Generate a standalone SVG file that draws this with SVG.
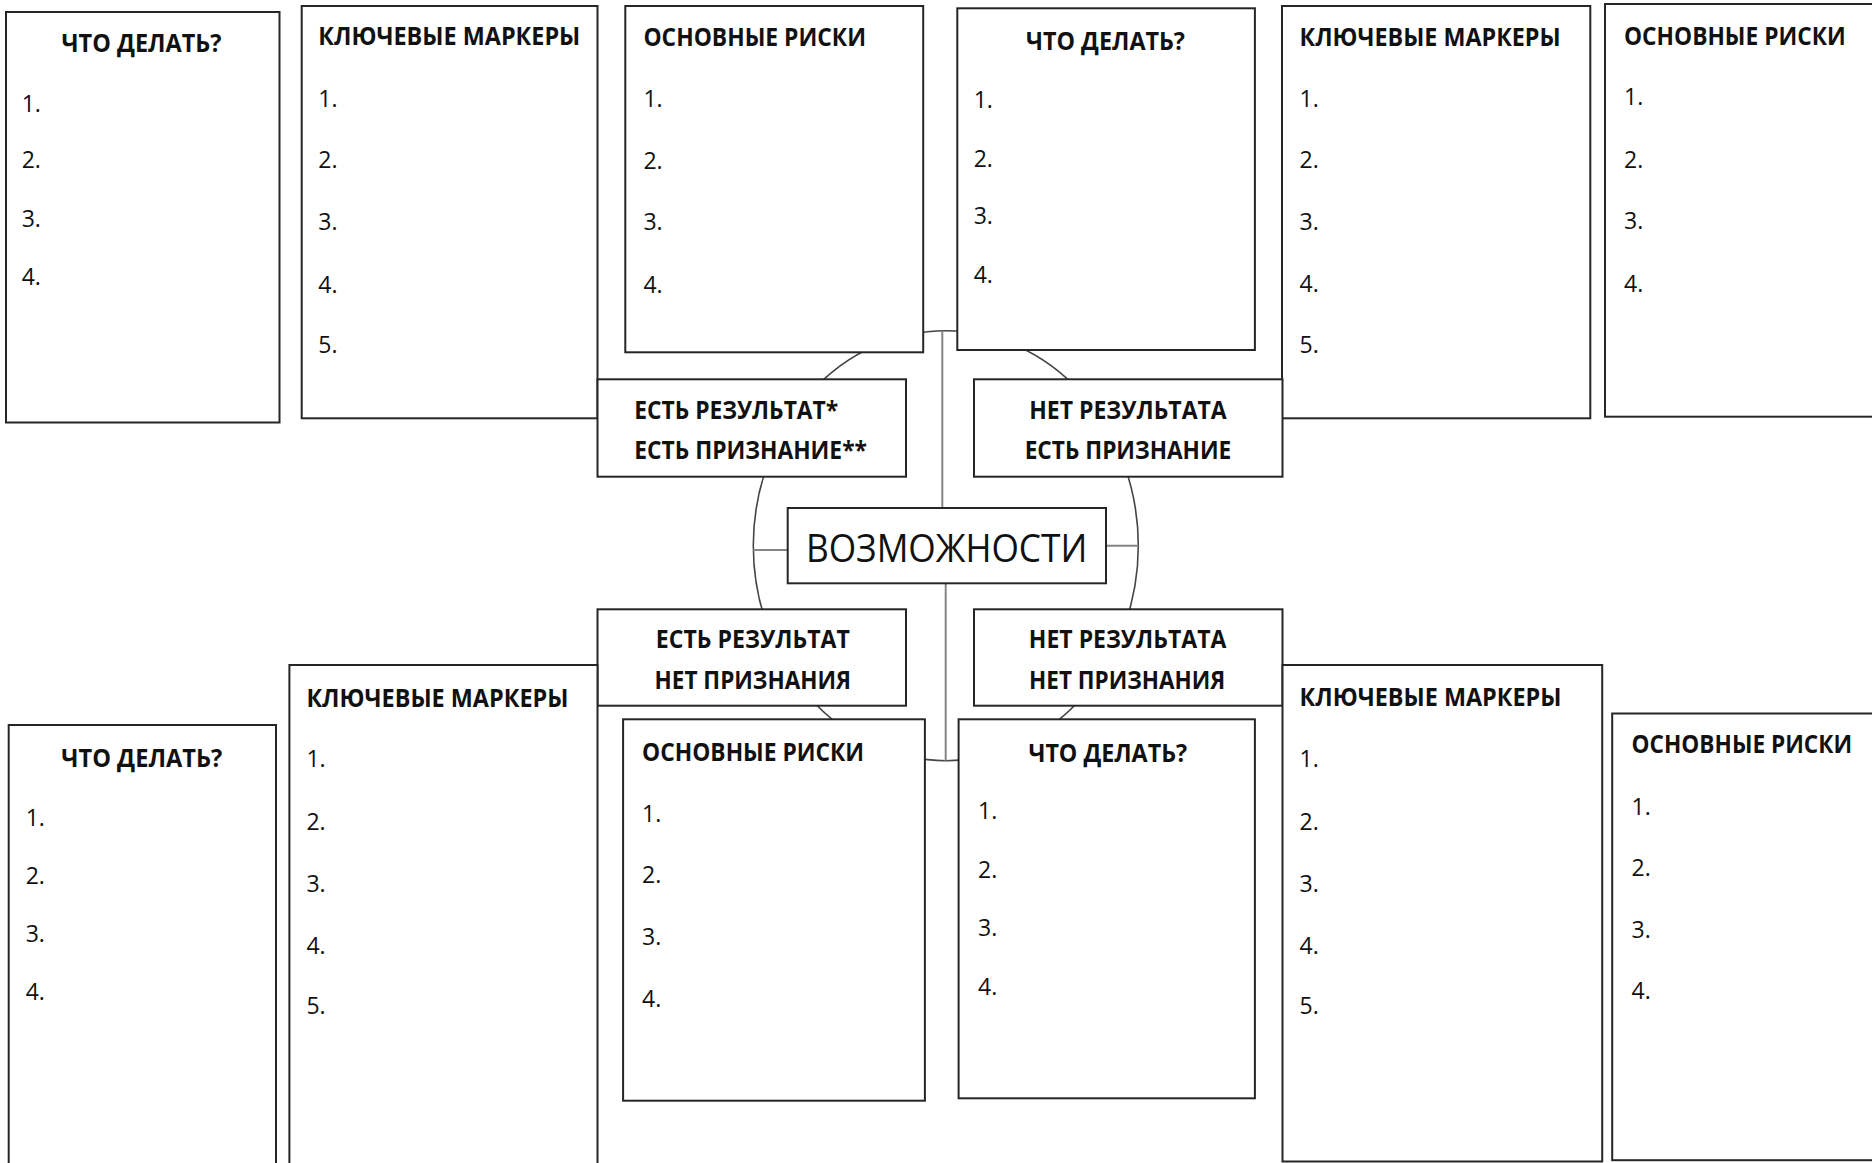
<svg xmlns="http://www.w3.org/2000/svg" width="1872" height="1163" viewBox="0 0 1872 1163">
<style>
.box{fill:#fff;stroke:#262626;stroke-width:2}
.h{font-family:"Open Sans","Noto Sans","Liberation Sans",sans-serif;font-weight:bold;font-size:25px;fill:#111}
.n{font-family:"Open Sans","Noto Sans","Liberation Sans",sans-serif;font-size:23px;fill:#111}
.c{font-family:"Open Sans","Noto Sans","Liberation Sans",sans-serif;font-size:39px;fill:#111}
.arc{fill:none;stroke:#444;stroke-width:1.6}
.spoke{fill:none;stroke:#858585;stroke-width:2}
</style>
<rect width="1872" height="1163" fill="#fff"/>
<g id="connectors">
<ellipse class="arc" cx="945.8" cy="545.7" rx="192.5" ry="215"/>
<line class="spoke" x1="942.3" y1="330.7" x2="942.3" y2="508"/>
<line class="spoke" x1="945.7" y1="583.3" x2="945.7" y2="760.7"/>
<line class="spoke" x1="753.3" y1="550" x2="787.7" y2="550"/>
<line class="spoke" x1="1106" y1="545.7" x2="1138.3" y2="545.7"/>
</g>
<g id="tl_what">
<rect class="box" x="6" y="12" width="273.5" height="410.5"/>
<text class="h" x="141.5" y="51.7" text-anchor="middle" textLength="160" lengthAdjust="spacingAndGlyphs">ЧТО ДЕЛАТЬ?</text>
<text class="n" x="21.7" y="111.7">1.</text><text class="n" x="21.7" y="168.3">2.</text><text class="n" x="21.7" y="226.7">3.</text><text class="n" x="21.7" y="285">4.</text>
</g>
<g id="tl_markers">
<rect class="box" x="301.7" y="6" width="295.8" height="412.3"/>
<text class="h" x="318.3" y="45" textLength="262" lengthAdjust="spacingAndGlyphs">КЛЮЧЕВЫЕ МАРКЕРЫ</text>
<text class="n" x="318.3" y="106.7">1.</text><text class="n" x="318.3" y="168.3">2.</text><text class="n" x="318.3" y="230">3.</text><text class="n" x="318.3" y="292.7">4.</text><text class="n" x="318.3" y="353.3">5.</text>
</g>
<g id="tl_risks">
<rect class="box" x="625.3" y="6" width="297.9" height="346.3"/>
<text class="h" x="643.4" y="45.7" textLength="222.6" lengthAdjust="spacingAndGlyphs">ОСНОВНЫЕ РИСКИ</text>
<text class="n" x="643.4" y="106.7">1.</text><text class="n" x="643.4" y="169.3">2.</text><text class="n" x="643.4" y="230">3.</text><text class="n" x="643.4" y="292.7">4.</text>
</g>
<g id="tm_what">
<rect class="box" x="957.3" y="8.3" width="297.6" height="341.7"/>
<text class="h" x="1105.5" y="50" text-anchor="middle" textLength="159" lengthAdjust="spacingAndGlyphs">ЧТО ДЕЛАТЬ?</text>
<text class="n" x="973.7" y="108.3">1.</text><text class="n" x="973.7" y="166.7">2.</text><text class="n" x="973.7" y="224">3.</text><text class="n" x="973.7" y="282.7">4.</text>
</g>
<g id="tr_markers">
<rect class="box" x="1282" y="6" width="308.3" height="412.3"/>
<text class="h" x="1299.6" y="45.7" textLength="261" lengthAdjust="spacingAndGlyphs">КЛЮЧЕВЫЕ МАРКЕРЫ</text>
<text class="n" x="1299.6" y="106.7">1.</text><text class="n" x="1299.6" y="168.3">2.</text><text class="n" x="1299.6" y="230">3.</text><text class="n" x="1299.6" y="291.7">4.</text><text class="n" x="1299.6" y="353.3">5.</text>
</g>
<g id="tr_risks">
<rect class="box" x="1605" y="4" width="300" height="412.7"/>
<text class="h" x="1624" y="45" textLength="221.7" lengthAdjust="spacingAndGlyphs">ОСНОВНЫЕ РИСКИ</text>
<text class="n" x="1624" y="105">1.</text><text class="n" x="1624" y="167.7">2.</text><text class="n" x="1624" y="229.3">3.</text><text class="n" x="1624" y="291.7">4.</text>
</g>
<g id="res_rec">
<rect class="box" x="597.5" y="379.3" width="308.5" height="97.4"/>
<text class="h" x="634.2" y="419.3" textLength="204" lengthAdjust="spacingAndGlyphs">ЕСТЬ РЕЗУЛЬТАТ*</text>
<text class="h" x="634.2" y="459.3" textLength="232.8" lengthAdjust="spacingAndGlyphs">ЕСТЬ ПРИЗНАНИЕ**</text>
</g>
<g id="nores_rec">
<rect class="box" x="974" y="379.3" width="308.5" height="97.4"/>
<text class="h" x="1128" y="419.3" text-anchor="middle" textLength="197.5" lengthAdjust="spacingAndGlyphs">НЕТ РЕЗУЛЬТАТА</text>
<text class="h" x="1128" y="459.3" text-anchor="middle" textLength="206.6" lengthAdjust="spacingAndGlyphs">ЕСТЬ ПРИЗНАНИЕ</text>
</g>
<g id="center">
<rect class="box" x="787.7" y="508" width="318.3" height="75.3"/>
<text class="c" x="805.9" y="561.7" textLength="281.4" lengthAdjust="spacingAndGlyphs">ВОЗМОЖНОСТИ</text>
</g>
<g id="res_norec">
<rect class="box" x="597.5" y="609.3" width="308.5" height="96.4"/>
<text class="h" x="752.8" y="648.3" text-anchor="middle" textLength="194" lengthAdjust="spacingAndGlyphs">ЕСТЬ РЕЗУЛЬТАТ</text>
<text class="h" x="752.8" y="689.3" text-anchor="middle" textLength="196.5" lengthAdjust="spacingAndGlyphs">НЕТ ПРИЗНАНИЯ</text>
</g>
<g id="nores_norec">
<rect class="box" x="974" y="609.3" width="308.5" height="96.4"/>
<text class="h" x="1127.6" y="648.3" text-anchor="middle" textLength="197.5" lengthAdjust="spacingAndGlyphs">НЕТ РЕЗУЛЬТАТА</text>
<text class="h" x="1127.1" y="689.3" text-anchor="middle" textLength="196" lengthAdjust="spacingAndGlyphs">НЕТ ПРИЗНАНИЯ</text>
</g>
<g id="bl_what">
<rect class="box" x="8.7" y="725" width="267.3" height="460"/>
<text class="h" x="141.8" y="767.2" text-anchor="middle" textLength="161" lengthAdjust="spacingAndGlyphs">ЧТО ДЕЛАТЬ?</text>
<text class="n" x="25.7" y="826">1.</text><text class="n" x="25.7" y="884.2">2.</text><text class="n" x="25.7" y="942">3.</text><text class="n" x="25.7" y="1000.2">4.</text>
</g>
<g id="bl_markers">
<rect class="box" x="289.4" y="665" width="308.1" height="520"/>
<text class="h" x="306.4" y="706.6" textLength="262" lengthAdjust="spacingAndGlyphs">КЛЮЧЕВЫЕ МАРКЕРЫ</text>
<text class="n" x="306.4" y="767.2">1.</text><text class="n" x="306.4" y="829.5">2.</text><text class="n" x="306.4" y="891.8">3.</text><text class="n" x="306.4" y="954.1">4.</text><text class="n" x="306.4" y="1014">5.</text>
</g>
<g id="bl_risks">
<rect class="box" x="623.1" y="719.3" width="301.8" height="381.4"/>
<text class="h" x="642.1" y="760.7" textLength="222" lengthAdjust="spacingAndGlyphs">ОСНОВНЫЕ РИСКИ</text>
<text class="n" x="642.1" y="821.7">1.</text><text class="n" x="642.1" y="883.3">2.</text><text class="n" x="642.1" y="945">3.</text><text class="n" x="642.1" y="1007.3">4.</text>
</g>
<g id="bm_what">
<rect class="box" x="958.6" y="719.3" width="296.3" height="379"/>
<text class="h" x="1107.8" y="761.7" text-anchor="middle" textLength="158.7" lengthAdjust="spacingAndGlyphs">ЧТО ДЕЛАТЬ?</text>
<text class="n" x="978" y="819.3">1.</text><text class="n" x="978" y="878.3">2.</text><text class="n" x="978" y="936">3.</text><text class="n" x="978" y="995">4.</text>
</g>
<g id="br_markers">
<rect class="box" x="1282.5" y="665" width="319.7" height="496.5"/>
<text class="h" x="1299.6" y="705.9" textLength="261.8" lengthAdjust="spacingAndGlyphs">КЛЮЧЕВЫЕ МАРКЕРЫ</text>
<text class="n" x="1299.6" y="767.2">1.</text><text class="n" x="1299.6" y="829.5">2.</text><text class="n" x="1299.6" y="891.8">3.</text><text class="n" x="1299.6" y="954.1">4.</text><text class="n" x="1299.6" y="1014">5.</text>
</g>
<g id="br_risks">
<rect class="box" x="1612.2" y="713.5" width="300" height="446.7"/>
<text class="h" x="1631.6" y="753.3" textLength="220.5" lengthAdjust="spacingAndGlyphs">ОСНОВНЫЕ РИСКИ</text>
<text class="n" x="1631.6" y="814.6">1.</text><text class="n" x="1631.6" y="876.2">2.</text><text class="n" x="1631.6" y="937.9">3.</text><text class="n" x="1631.6" y="999.1">4.</text>
</g>
</svg>
